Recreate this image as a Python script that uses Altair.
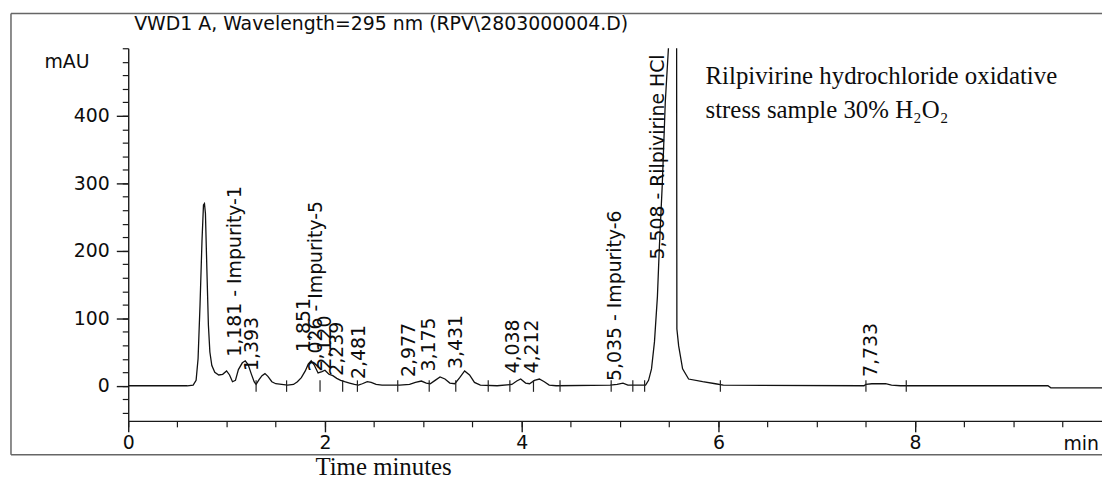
import altair as alt
import pandas as pd

# ---- chromatogram trace (time in min, signal in mAU) ----
time_min = [0.00, 0.60, 0.66, 0.69, 0.71, 0.73, 0.75, 0.765, 0.775, 0.785, 0.80, 0.815,
            0.83, 0.85, 0.88, 0.92, 0.96, 1.00, 1.03, 1.06, 1.09, 1.12, 1.16, 1.19, 1.22,
            1.25, 1.28, 1.30, 1.33, 1.36, 1.39, 1.42, 1.46, 1.50, 1.56, 1.62, 1.68, 1.72,
            1.76, 1.80, 1.83, 1.86, 1.89, 1.93, 1.97, 2.00, 2.04, 2.08, 2.12, 2.16, 2.20,
            2.25, 2.30, 2.34, 2.38, 2.43, 2.47, 2.52, 2.58, 2.70, 2.76, 2.86, 2.92, 2.98,
            3.03, 3.07, 3.12, 3.17, 3.22, 3.27, 3.32, 3.37, 3.42, 3.47, 3.52, 3.58, 3.75,
            3.90, 3.95, 3.99, 4.04, 4.08, 4.13, 4.18, 4.23, 4.28, 4.35, 4.90, 4.97, 5.03,
            5.08, 5.20, 5.26, 5.29, 5.32, 5.35, 5.38, 5.40, 5.43, 5.46, 5.50, 5.55, 5.575,
            5.578, 5.596, 5.636, 5.697, 5.84, 5.97, 6.05, 7.48, 7.50, 7.56, 7.70, 7.76,
            7.85, 9.35, 9.38, 9.90]
signal_mau = [0, 0, 1, 8, 40, 120, 215, 268, 270, 255, 170, 90,
              50, 30, 20, 16, 17, 22, 16, 6, 8, 24, 34, 37, 31,
              18, 6, 2, 9, 15, 18, 14, 6, 3, 2, 1, 2, 6,
              12, 22, 32, 37, 31, 19, 21, 23, 17, 15, 11, 8, 6,
              4, 2, 1, 3, 6, 5, 2, 1, 1, 1, 2, 5, 7,
              4, 3, 8, 13, 10, 4, 3, 12, 22, 16, 5, 1, 0,
              2, 7, 10, 4, 3, 8, 10, 6, 1, 0, 1, 2, 4,
              1, 1, 1, 8, 25, 65, 132, 206, 300, 420, 520, 560, 540,
              84, 59, 25, 10, 6, 3, 1, 0, 2, 3, 3, 1,
              0, 0, -3, -3]

# ---- peak annotations ----
peak_labels = ["1,181 - Impurity-1", "1,393", "1,851", "2,026 - Impurity-5", "2,120",
               "2,239", "2,481", "2,977", "3,175", "3,431", "4,038", "4,212",
               "5,035 - Impurity-6", "5,508 - Rilpivirine HCl", "7,733"]
label_time = [1.15, 1.32, 1.85, 1.97, 2.06, 2.18, 2.41, 2.92, 3.12, 3.39, 3.97, 4.17,
              5.01, 5.45, 7.61]
label_mau = [43, 22, 50, 21, 24, 15, 10, 13, 21, 25, 18, 18, 7, 187, 13]

# ---- integration event markers on the baseline ----
marker_time = [1.30, 1.61, 1.95, 2.18, 2.33, 2.74, 3.06, 3.33, 3.66, 3.88, 4.12, 4.39,
               4.91, 5.13, 5.25, 6.02, 7.50, 7.91]

# ---- axis ticks ----
x_major = [0, 2, 4, 6, 8]
x_minor = [i * 0.5 for i in range(20)]
y_major = [0, 100, 200, 300, 400]
y_minor = list(range(-40, 501, 20))

title_text = "VWD1 A, Wavelength=295 nm (RPV\\2803000004.D)"
note_line1 = "Rilpivirine hydrochloride oxidative"
note_line2 = "stress sample 30% H\u2082O\u2082"
x_title = "Time minutes"
y_unit = "mAU"
x_unit = "min"

trace = pd.DataFrame({"t": time_min, "v": signal_mau})
labels = pd.DataFrame({"t": label_time, "v": label_mau, "txt": peak_labels})
markers = pd.DataFrame({"t": marker_time})
one = pd.DataFrame({"k": [0]})

W, H = 980, 375
xs = alt.Scale(domain=[0, 9.9], nice=False, zero=False)
ys = alt.Scale(domain=[-52, 500], nice=False, zero=False)

FONT = "DejaVu Sans"
SERIF = "Liberation Serif"
AX = "#1a1a1a"
TXT = "#0d0d0d"

line = alt.Chart(trace).mark_line(color="#111111", strokeWidth=1.3, clip=True).encode(
    x=alt.X("t:Q", scale=xs, axis=alt.Axis(
        orient="bottom", values=x_major, tickSize=11, labelPadding=2, title=None,
        grid=False, domainColor=AX, tickColor=AX, domainWidth=1.4, tickWidth=1.4,
        labelFont=FONT, labelFontSize=19, labelColor=TXT, labelFlush=False,
        format="d")),
    y=alt.Y("v:Q", scale=ys, axis=alt.Axis(
        orient="left", values=y_major, tickSize=12, labelPadding=7, title=None,
        grid=False, domainColor=AX, tickColor=AX, domainWidth=1.4, tickWidth=1.4,
        labelFont=FONT, labelFontSize=19, labelColor=TXT, labelFlush=False,
        format="d")),
)

ticks = alt.Chart(markers).mark_rule(color="#222222", strokeWidth=1.2).encode(
    x=alt.X("t:Q", scale=xs, axis=alt.Axis(
        orient="bottom", values=x_minor, tickSize=6, labels=False, domain=False,
        grid=False, title=None, tickColor=AX, tickWidth=1.2)),
    y=alt.YDatum(8, type="quantitative", scale=ys, axis=alt.Axis(
        orient="left", values=y_minor, tickSize=6, labels=False, domain=False,
        grid=False, title=None, tickColor=AX, tickWidth=1.2)),
    y2=alt.Y2Datum(-9),
)

peak_text = alt.Chart(labels).mark_text(
    angle=270, align="left", baseline="alphabetic", font=FONT, fontSize=19, color=TXT
).encode(
    x=alt.X("t:Q", scale=xs, axis=None),
    y=alt.Y("v:Q", scale=ys, axis=None),
    text="txt:N",
)

def txt(s, x, y, align="left", baseline="alphabetic", font=FONT, size=19):
    return alt.Chart(one).mark_text(
        align=align, baseline=baseline, font=font, fontSize=size, color=TXT
    ).encode(x=alt.value(x), y=alt.value(y), text=alt.value(s))

FR = "#666666"
frame_top = alt.Chart(one).mark_rule(color=FR, strokeWidth=1.5).encode(
    x=alt.value(-118), x2=alt.value(990), y=alt.value(-35))
frame_left = alt.Chart(one).mark_rule(color=FR, strokeWidth=1.5).encode(
    x=alt.value(-118), y=alt.value(-35), y2=alt.value(409))
frame_bottom = alt.Chart(one).mark_rule(color=FR, strokeWidth=1.5).encode(
    x=alt.value(-118), x2=alt.value(990), y=alt.value(409))

chart = alt.layer(
    frame_top, frame_left, frame_bottom,
    line, ticks, peak_text,
    txt(title_text, 6, -18),
    txt(y_unit, -39, 20, align="right"),
    txt(x_unit, 977, 398, align="right", baseline="middle"),
    txt(note_line1, 581, 36, font=SERIF, size=25),
    txt(note_line2, 581, 70, font=SERIF, size=25),
    txt(x_title, 257, 429, align="center", font=SERIF, size=25),
).resolve_axis(x="independent", y="independent").properties(
    width=W, height=H,
    autosize=alt.AutoSizeParams(type="none"),
    padding={"left": 121, "top": 39, "right": 0, "bottom": 58},
).configure_view(stroke=None)

chart.save("out.html", embed_options={"renderer": "svg", "actions": False})
